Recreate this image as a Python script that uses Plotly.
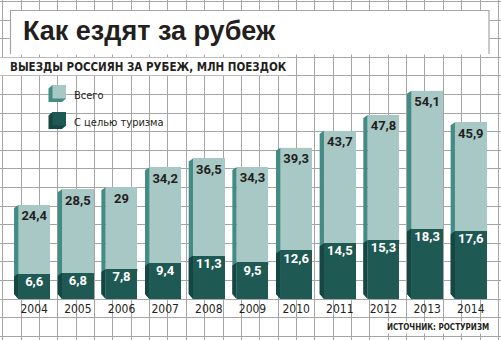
import plotly.graph_objects as go

# ---------------- data ----------------
years = [2004, 2005, 2006, 2007, 2008, 2009, 2010, 2011, 2012, 2013, 2014]
total = [24.4, 28.5, 29, 34.2, 36.5, 34.3, 39.3, 43.7, 47.8, 54.1, 45.9]
tourism = [6.6, 6.8, 7.8, 9.4, 11.3, 9.5, 12.6, 14.5, 15.3, 18.3, 17.6]
year_labels = [str(y) for y in years]
title_text = "Как ездят за рубеж"
subtitle_text = "ВЫЕЗДЫ РОССИЯН ЗА РУБЕЖ, МЛН ПОЕЗДОК"
legend_labels = ["Всего", "С целью туризма"]
source_text = "ИСТОЧНИК: РОСТУРИЗМ"

# ---------------- style / geometry ----------------
W, H = 501, 340
PX_PER_YEAR = 43.66
X_FIRST_PX = 34.2
PX_PER_UNIT = 3.85
BASE_PX = 299

LIGHT = "#a7c8c5"
LIGHT_SIDE = "#428c83"
LIGHT_TOP = "#cce1de"
DARK = "#1f5953"
DARK_SIDE = "#164641"
DARK_TOP = "#2f6c66"
GRID = "#a5a5a5"
TXT = "#231f20"
NARROW = "DejaVu Sans Condensed, Liberation Sans Narrow, sans-serif"
DIGITS = "Roboto, Liberation Sans, sans-serif"

x0 = years[0] - X_FIRST_PX / PX_PER_YEAR
x1 = x0 + W / PX_PER_YEAR
y_top = BASE_PX / PX_PER_UNIT
y_bot = -(H - BASE_PX) / PX_PER_UNIT

bar_w = 31.7 / PX_PER_YEAR
side_dx = 4.3 / PX_PER_YEAR
side_top_dy = 3 / PX_PER_UNIT
side_bot_dy = 5 / PX_PER_UNIT
strip_h = 2.2 / PX_PER_UNIT
total_lbl_off = 12 / PX_PER_UNIT
tour_lbl_off = 9 / PX_PER_UNIT


def fmt(v):
    return f"{v:g}".replace(".", ",")


def px(xp):
    return xp / W


def py(yp):
    return 1 - yp / H


def side_polys(values):
    xs, ys = [], []
    for yr, v in zip(years, values):
        xl = yr - bar_w / 2
        xs += [xl - side_dx, xl, xl, xl - side_dx, xl - side_dx, None]
        ys += [v - side_top_dy, v, 0, side_bot_dy, v - side_top_dy, None]
    return xs, ys


fig = go.Figure()

# side faces
for vals, col in ((total, LIGHT_SIDE), (tourism, DARK_SIDE)):
    sx, sy = side_polys(vals)
    fig.add_trace(go.Scatter(x=sx, y=sy, mode="lines", fill="toself",
                             fillcolor=col, line=dict(width=0, color=col),
                             hoverinfo="skip", showlegend=False))

# front faces
fig.add_trace(go.Bar(x=years, y=total, width=bar_w, marker=dict(color=LIGHT, line=dict(width=0)),
                     name=legend_labels[0], showlegend=False))
fig.add_trace(go.Bar(x=years, y=tourism, width=bar_w, marker=dict(color=DARK, line=dict(width=0)),
                     name=legend_labels[1], showlegend=False))

# value labels
fig.add_trace(go.Scatter(x=years, y=[v - total_lbl_off for v in total], mode="text",
                         text=["<b>" + fmt(v) + "</b>" for v in total],
                         textposition="middle center",
                         textfont=dict(family=DIGITS, size=13, color=TXT),
                         hoverinfo="skip", showlegend=False))
fig.add_trace(go.Scatter(x=years, y=[v - tour_lbl_off for v in tourism], mode="text",
                         text=["<b>" + fmt(v) + "</b>" for v in tourism],
                         textposition="middle center",
                         textfont=dict(family=DIGITS, size=13, color="white"),
                         hoverinfo="skip", showlegend=False))

# year labels
fig.add_trace(go.Scatter(x=years, y=[-11 / PX_PER_UNIT] * len(years), mode="text",
                         text=year_labels, textposition="middle center",
                         textfont=dict(family=NARROW, size=12, color=TXT),
                         hoverinfo="skip", showlegend=False))

shapes = []
# top highlight strips
for vals, col in ((total, LIGHT_TOP), (tourism, DARK_TOP)):
    for yr, v in zip(years, vals):
        shapes.append(dict(type="rect", xref="x", yref="y",
                           x0=yr - bar_w / 2, x1=yr + bar_w / 2,
                           y0=v - strip_h, y1=v, fillcolor=col, line=dict(width=0), layer="below"))

# title box
shapes.append(dict(type="rect", xref="paper", yref="paper", x0=px(10), x1=px(489.5),
                   y0=py(54.5), y1=py(10.5), fillcolor="white", line=dict(width=0), layer="above"))
shapes.append(dict(type="path", xref="paper", yref="paper",
                   path=f"M {px(10.5)},{py(54)} L {px(10.5)},{py(10.5)} L {px(489)},{py(10.5)} L {px(489)},{py(54)}",
                   line=dict(color=GRID, width=1.2), layer="above"))
# subtitle band
shapes.append(dict(type="rect", xref="paper", yref="paper", x0=px(0), x1=px(287),
                   y0=py(75.2), y1=py(57.8), fillcolor="white", line=dict(width=0), layer="above"))

# legend cubes
for (top, front, side) in ((85, LIGHT, LIGHT_SIDE), (112, DARK, DARK_SIDE)):
    l, r, b = 52.5, 66, top + 13.5
    pts = [(48.5, top + 3.5), (l, top), (r, top), (r, b), (r - 4, b + 3.5), (48.5, b + 3.5)]
    path = "M " + " L ".join(f"{px(a)},{py(c)}" for a, c in pts) + " Z"
    shapes.append(dict(type="path", xref="paper", yref="paper", path=path,
                       fillcolor=side, line=dict(width=0), layer="above"))
    shapes.append(dict(type="rect", xref="paper", yref="paper", x0=px(l), x1=px(r),
                       y0=py(b), y1=py(top), fillcolor=front, line=dict(width=0), layer="above"))

annotations = [
    dict(text="<b>" + title_text + "</b>", x=px(21), y=py(30.5), xref="paper", yref="paper",
         xanchor="left", yanchor="middle", showarrow=False,
         font=dict(family="Liberation Sans, Arial, sans-serif", size=27, color=TXT)),
    dict(text="<b>" + subtitle_text + "</b>", x=px(8), y=py(67.5), xref="paper", yref="paper",
         xanchor="left", yanchor="middle", showarrow=False,
         font=dict(family=NARROW, size=11.5, color=TXT)),
    dict(text=legend_labels[0], x=px(71.5), y=py(95), xref="paper", yref="paper",
         xanchor="left", yanchor="middle", showarrow=False,
         font=dict(family=NARROW, size=11, color=TXT)),
    dict(text=legend_labels[1], x=px(71.5), y=py(122.5), xref="paper", yref="paper",
         xanchor="left", yanchor="middle", showarrow=False,
         font=dict(family=NARROW, size=11, color=TXT)),
    dict(text="<b>" + source_text + "</b>", x=px(491), y=py(327), xref="paper", yref="paper",
         xanchor="right", yanchor="middle", showarrow=False, bgcolor="white", borderpad=1,
         font=dict(family=NARROW, size=8, color=TXT)),
]

fig.update_layout(
    width=W, height=H, margin=dict(l=0, r=0, t=0, b=0),
    paper_bgcolor="white", plot_bgcolor="white",
    barmode="overlay", bargap=0,
    shapes=shapes, annotations=annotations,
    xaxis=dict(range=[x0, x1], showgrid=True, gridcolor=GRID, gridwidth=1,
               tickmode="linear", tick0=x0 + 2.7 / PX_PER_YEAR, dtick=18.36 / PX_PER_YEAR,
               showticklabels=False, ticks="", zeroline=False, showline=False, fixedrange=True),
    yaxis=dict(range=[y_bot, y_top], showgrid=True, gridcolor=GRID, gridwidth=1,
               tickmode="linear", tick0=0, dtick=18.6 / PX_PER_UNIT,
               showticklabels=False, ticks="", zeroline=False, showline=False, fixedrange=True),
    showlegend=False,
)

fig.write_html("out.html", config={"displayModeBar": False})
